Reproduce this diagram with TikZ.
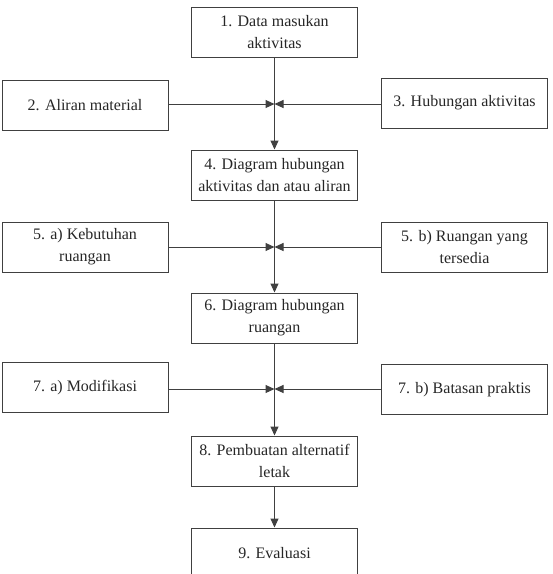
\documentclass[tikz,border=0pt]{standalone}
\usepackage{fontspec}
\setmainfont{Liberation Serif}
\usetikzlibrary{arrows.meta}
\begin{document}
\begin{tikzpicture}[x=1pt,y=-1pt,
  box/.style={draw=black!75, line width=1pt, minimum width=166pt, minimum height=50pt,
    inner sep=0pt, align=center, text=black!85, font=\fontsize{16}{22}\selectfont},
  arr/.style={draw=black!75, line width=1pt, -{Triangle[length=9pt,width=8pt]}}]
\useasboundingbox (0,0) rectangle (553,574);
\node[box] (b1) at (274.5,32) {1. Data masukan\\aktivitas};
\node[box] (b2) at (85,105) {2. Aliran material};
\node[box] (b3) at (464.5,103) {3. Hubungan aktivitas};
\node[box] (b4) at (274.5,175) {4. Diagram hubungan\\aktivitas dan atau aliran};
\node[box] (b5a) at (85,247) {5. a) Kebutuhan\\ruangan};
\node[box] (b5b) at (464.5,247) {5. b) Ruangan yang\\tersedia};
\node[box] (b6) at (274.5,318) {6. Diagram hubungan\\ruangan};
\node[box] (b7a) at (85,387.5) {\raisebox{3pt}{7. a) Modifikasi}};
\node[box] (b7b) at (464.5,389.5) {7. b) Batasan praktis};
\node[box] (b8) at (274.5,461) {8. Pembuatan alternatif\\letak};
\node[box, minimum height=52pt] (b9) at (274.5,554) {\raisebox{3pt}{9. Evaluasi}};
\coordinate (j1) at (274.5,104);
\coordinate (j2) at (274.5,247);
\coordinate (j3) at (274.5,389);
\draw[arr] (b1) -- (b4);
\draw[arr] (b4) -- (b6);
\draw[arr] (b6) -- (b8);
\draw[arr] (b8) -- (b9);
\draw[arr] (j1 -| b2.east) -- (j1);
\draw[arr] (j1 -| b3.west) -- (j1);
\draw[arr] (b5a) -- (j2);
\draw[arr] (b5b) -- (j2);
\draw[arr] (j3 -| b7a.east) -- (j3);
\draw[arr] (j3 -| b7b.west) -- (j3);
\end{tikzpicture}
\end{document}
